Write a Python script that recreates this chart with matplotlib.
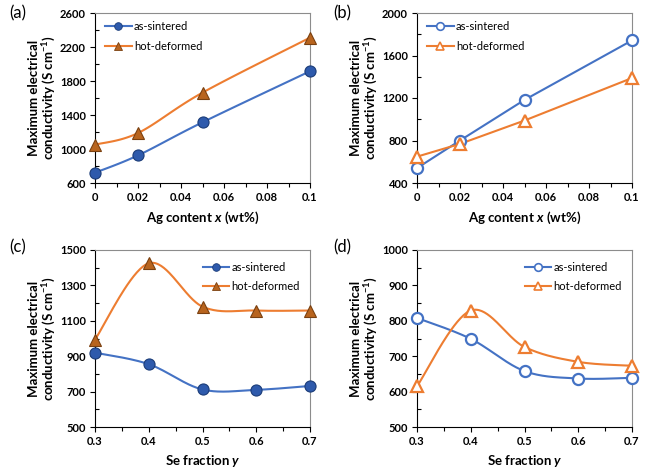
import numpy as np
import matplotlib
matplotlib.use("Agg")
import matplotlib.pyplot as plt
from matplotlib.ticker import MultipleLocator

plt.rcParams['font.family'] = ['Lato', 'DejaVu Sans']
plt.rcParams['mathtext.fontset'] = 'custom'
plt.rcParams['mathtext.rm'] = 'Lato'
plt.rcParams['mathtext.it'] = 'Lato:italic:bold'
plt.rcParams['mathtext.bf'] = 'Lato:bold'
plt.rcParams['mathtext.bfit'] = 'Lato:italic:bold'

# data
ag_x = [0, 0.02, 0.05, 0.1]
a_sint = [721, 925, 1314, 1915]
a_hot = [1051, 1188, 1663, 2310]
b_sint = [540, 800, 1182, 1742]
b_hot = [648, 768, 988, 1388]

se_y = [0.3, 0.4, 0.5, 0.6, 0.7]
c_sint = [920, 855, 712, 710, 732]
c_hot = [994, 1425, 1180, 1158, 1158]
d_sint = [808, 749, 658, 637, 639]
d_hot = [615, 829, 726, 684, 673]

BLUE = '#4472C4'
ORANGE = '#ED7D31'


def smooth(x, y, xlim, ylim, n=40):
    """Excel-like smoothed line (Catmull-Rom Bezier) in axes-normalised space."""
    x = np.asarray(x, float)
    y = np.asarray(y, float)
    px = (x - xlim[0]) / (xlim[1] - xlim[0])
    py = (y - ylim[0]) / (ylim[1] - ylim[0])
    P = np.column_stack([px, py])
    P = np.vstack([P[0], P, P[-1]])
    out = []
    t = np.linspace(0, 1, n)[:, None]
    for i in range(1, len(P) - 2):
        p0, p1, p2, p3 = P[i - 1], P[i], P[i + 1], P[i + 2]
        c1 = p1 + (p2 - p0) / 6
        c2 = p2 - (p3 - p1) / 6
        seg = ((1 - t) ** 3) * p1 + 3 * ((1 - t) ** 2) * t * c1 + 3 * (1 - t) * t ** 2 * c2 + t ** 3 * p2
        out.append(seg)
    out = np.vstack(out)
    return (out[:, 0] * (xlim[1] - xlim[0]) + xlim[0],
            out[:, 1] * (ylim[1] - ylim[0]) + ylim[0])


def style_axes(ax, xlim, ylim, xticks, ystep, ymin, xlabel, xlab_y):
    ax.set_xlim(xlim)
    ax.set_ylim(ylim)
    ax.set_xticks(xticks[0])
    ax.set_xticklabels(xticks[1])
    ax.xaxis.set_minor_locator(MultipleLocator((xticks[0][1] - xticks[0][0]) / 2))
    yt = np.arange(ylim[0], ylim[1] + 1, ystep)
    ax.set_yticks(yt)
    ax.set_yticklabels([str(int(v)) for v in yt])
    ax.yaxis.set_minor_locator(MultipleLocator(ymin))
    ax.tick_params(axis='both', which='major', direction='out', length=3.5,
                   width=0.8, labelsize=8, pad=3)
    ax.tick_params(axis='y', which='minor', direction='in', length=3, width=0.8)
    ax.tick_params(axis='x', which='minor', direction='out', length=3, width=0.8)
    for lab in ax.get_xticklabels() + ax.get_yticklabels():
        lab.set_fontweight('bold')
    for s in ['top', 'right']:
        ax.spines[s].set_color('#8c8c8c')
    for s in ['left', 'bottom']:
        ax.spines[s].set_color('black')
    ax.set_ylabel('Maximum electrical\nconductivity (S cm$^{\\mathbf{-1}}$)',
                  fontsize=9.5, fontweight='bold', linespacing=1.1)
    ax.yaxis.set_label_coords(-0.17, 0.5)
    ax.set_xlabel(xlabel, fontsize=9.5, fontweight='bold')
    ax.xaxis.set_label_coords(0.5, xlab_y)


def plot_series(ax, x, y, color, marker, filled, fc, ec, label, xlim, ylim, curved):
    if curved:
        sx, sy = smooth(x, y, xlim, ylim)
    else:
        sx, sy = x, y
    ax.plot(sx, sy, color=color, lw=1.5, zorder=2)
    ms = 8 if marker == 'o' else 8.5
    if filled:
        ax.plot(x, y, ls='none', marker=marker, ms=ms, mfc=fc, mec=ec, mew=0.8,
                zorder=3, clip_on=False)
        h, = ax.plot([], [], color=color, lw=1.5, marker=marker, ms=5.5, mfc=fc,
                     mec=ec, mew=0.6, label=label)
    else:
        ax.plot(x, y, ls='none', marker=marker, ms=ms, mfc='white', mec=color, mew=1.6,
                zorder=3, clip_on=False)
        h, = ax.plot([], [], color=color, lw=1.5, marker=marker, ms=5.5, mfc='white',
                     mec=color, mew=1.2, label=label)
    return h


fig = plt.figure(figsize=(6.49, 4.71), dpi=100)
W, H = 649, 471
def add_ax(l, t, r, b):
    return fig.add_axes([l / W, 1 - b / H, (r - l) / W, (b - t) / H])

ax_a = add_ax(95, 13, 310, 183)
ax_b = add_ax(417, 13, 632, 183)
ax_c = add_ax(95, 250, 310, 427)
ax_d = add_ax(417, 250, 632, 427)

ag_ticks = ([0, 0.02, 0.04, 0.06, 0.08, 0.1], ['0', '0.02', '0.04', '0.06', '0.08', '0.1'])
se_ticks = ([0.3, 0.4, 0.5, 0.6, 0.7], ['0.3', '0.4', '0.5', '0.6', '0.7'])
xl_ag = 'Ag content $\\mathbfit{x}$ (wt%)'
xl_se = 'Se fraction $\\mathbfit{y}$'

fill_blue = ('#2E5AAC', '#1B3C78')
fill_orng = ('#B8641E', '#7A4010')

leg_kw = dict(frameon=False, fontsize=8, handlelength=2.4, handletextpad=0.2,
              labelspacing=0.75)

# (a)
xl, yl = (0, 0.1), (600, 2600)
h1 = plot_series(ax_a, ag_x, a_sint, BLUE, 'o', True, *fill_blue, 'as-sintered', xl, yl, True)
h2 = plot_series(ax_a, ag_x, a_hot, ORANGE, '^', True, *fill_orng, 'hot-deformed', xl, yl, True)
style_axes(ax_a, xl, yl, ag_ticks, 400, 200, xl_ag, -0.16)
ax_a.legend(handles=[h1, h2], loc='upper left', bbox_to_anchor=(0.0, 1.01), **leg_kw)

# (b)
xl, yl = (0, 0.1), (400, 2000)
h1 = plot_series(ax_b, ag_x, b_sint, BLUE, 'o', False, None, None, 'as-sintered', xl, yl, False)
h2 = plot_series(ax_b, ag_x, b_hot, ORANGE, '^', False, None, None, 'hot-deformed', xl, yl, False)
style_axes(ax_b, xl, yl, ag_ticks, 400, 200, xl_ag, -0.16)
ax_b.legend(handles=[h1, h2], loc='upper left', bbox_to_anchor=(0.0, 1.01), **leg_kw)

# (c)
xl, yl = (0.3, 0.7), (500, 1500)
h1 = plot_series(ax_c, se_y, c_sint, BLUE, 'o', True, *fill_blue, 'as-sintered', xl, yl, True)
h2 = plot_series(ax_c, se_y, c_hot, ORANGE, '^', True, *fill_orng, 'hot-deformed', xl, yl, True)
style_axes(ax_c, xl, yl, se_ticks, 200, 100, xl_se, -0.145)
ax_c.legend(handles=[h1, h2], loc='upper right', bbox_to_anchor=(1.0, 0.99), **leg_kw)

# (d)
xl, yl = (0.3, 0.7), (500, 1000)
h1 = plot_series(ax_d, se_y, d_sint, BLUE, 'o', False, None, None, 'as-sintered', xl, yl, True)
h2 = plot_series(ax_d, se_y, d_hot, ORANGE, '^', False, None, None, 'hot-deformed', xl, yl, True)
style_axes(ax_d, xl, yl, se_ticks, 100, 50, xl_se, -0.145)
ax_d.legend(handles=[h1, h2], loc='upper right', bbox_to_anchor=(1.0, 0.99), **leg_kw)

for lab, (x, y) in zip(['(a)', '(b)', '(c)', '(d)'],
                       [(9, 13), (333, 13), (9, 247), (333, 247)]):
    fig.text(x / W, 1 - y / H, lab, fontsize=12, va='center', ha='left')

fig.savefig('out.png', dpi=100)
